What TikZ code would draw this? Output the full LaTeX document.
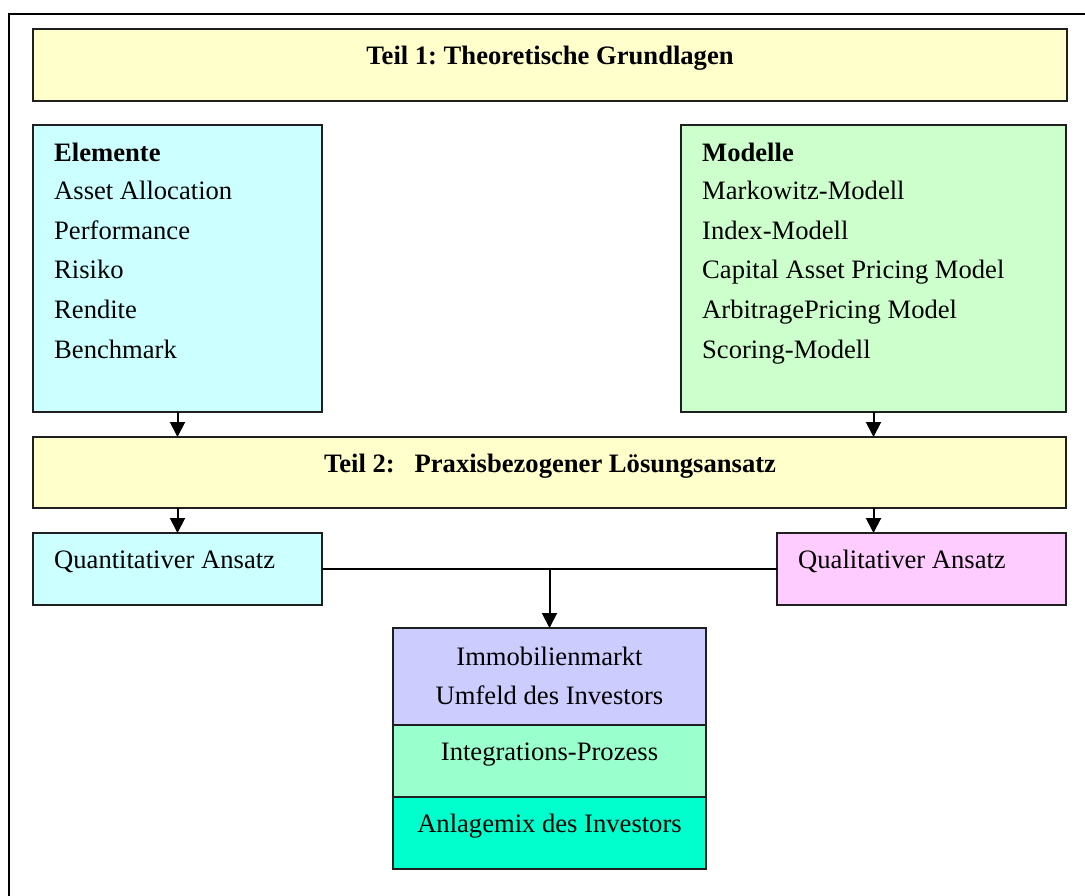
\documentclass[tikz,border=0pt]{standalone}
\usepackage{fontspec}
\setmainfont{Liberation Serif}
\usetikzlibrary{arrows.meta}
\frenchspacing
\definecolor{yel}{HTML}{FFFFCC}
\definecolor{cyn}{HTML}{CCFFFF}
\definecolor{grn}{HTML}{CCFFCC}
\definecolor{pnk}{HTML}{FFCCFF}
\definecolor{lav}{HTML}{CCCCFF}
\definecolor{mnt}{HTML}{99FFCC}
\definecolor{aqu}{HTML}{00FFCC}
\tikzset{
  box/.style={draw=black!88, line width=2pt, inner sep=0pt, outer sep=0pt, anchor=north west},
  txt/.style={inner sep=0pt, anchor=base west},
  ctxt/.style={inner sep=0pt, anchor=base},
  conn/.style={line width=2pt, draw=black},
  arr/.style={conn, -{Triangle[length=15pt,width=15pt]}},
}
\begin{document}
\begin{tikzpicture}[x=1pt,y=-1pt]
\useasboundingbox (0,0) rectangle (1085,896);
\clip (0,0) rectangle (1085,896);
\fontsize{26.6}{39.3}\selectfont
% outer frame
\draw[line width=2.2pt] (9,14) rectangle (1110,920);
% boxes
\node[box, fill=yel, minimum width=1034pt, minimum height=72pt] (t1) at (33,29) {};
\node[box, fill=cyn, minimum width=289pt, minimum height=287pt] (el) at (33,125) {};
\node[box, fill=grn, minimum width=385pt, minimum height=287pt] (mo) at (681,125) {};
\node[box, fill=yel, minimum width=1033pt, minimum height=71pt] (t2) at (33,437) {};
\node[box, fill=cyn, minimum width=289pt, minimum height=72pt] (qn) at (33,533) {};
\node[box, fill=pnk, minimum width=289pt, minimum height=72pt] (ql) at (777,533) {};
\node[box, fill=lav, minimum width=313pt, minimum height=97pt] (c1) at (393,628) {};
\node[box, fill=mnt, minimum width=313pt, minimum height=72pt] (c2) at (393,725) {};
\node[box, fill=aqu, minimum width=313pt, minimum height=72pt] (c3) at (393,797) {};
% texts
\node[ctxt] (t1t) at (550,65) {\textbf{Teil 1: Theoretische Grundlagen}};
\node[ctxt] (t2t) at (550,472) {\textbf{Teil 2:\hspace{0.75em}Praxisbezogener Lösungsansatz}};
\node[txt] (elh) at (54,162) {\textbf{Elemente}};
\node[txt] (e1) at (54,200) {Asset Allocation};
\node[txt] (e2) at (54,239.5) {Performance};
\node[txt] (e3) at (54,279) {Risiko};
\node[txt] (e4) at (54,318.5) {Rendite};
\node[txt] (e5) at (54,358) {Benchmark};
\node[txt] (moh) at (702,162) {\textbf{Modelle}};
\node[txt] (m1) at (702,200) {Markowitz-Modell};
\node[txt] (m2) at (702,239.5) {Index-Modell};
\node[txt] (m3) at (702,279) {Capital Asset Pricing Model};
\node[txt] (m4) at (702,318.5) {ArbitragePricing Model};
\node[txt] (m5) at (702,358) {Scoring-Modell};
\node[txt] (qnt) at (54,568) {Quantitativer Ansatz};
\node[txt] (qlt) at (798,568) {Qualitativer Ansatz};
\node[ctxt] (c1a) at (549.5,665) {Immobilienmarkt};
\node[ctxt] (c1b) at (549.5,704) {Umfeld des Investors};
\node[ctxt] (c2t) at (549.5,760) {Integrations-Prozess};
\node[ctxt] (c3t) at (549.5,832) {Anlagemix des Investors};
% connectors
\draw[arr] (el.south) -- (el.south |- t2.north);
\draw[arr] (mo.south) -- (mo.south |- t2.north);
\draw[arr] (t2.south -| qn.north) -- (qn.north);
\coordinate (qla) at (ql.north -| mo.south);
\draw[arr] (t2.south -| mo.south) -- (qla);
\draw[conn] (qn.east) -- (ql.west);
\coordinate (mid) at (qn.east -| c1.north);
\draw[arr] (mid) -- (c1.north);
\end{tikzpicture}
\end{document}
